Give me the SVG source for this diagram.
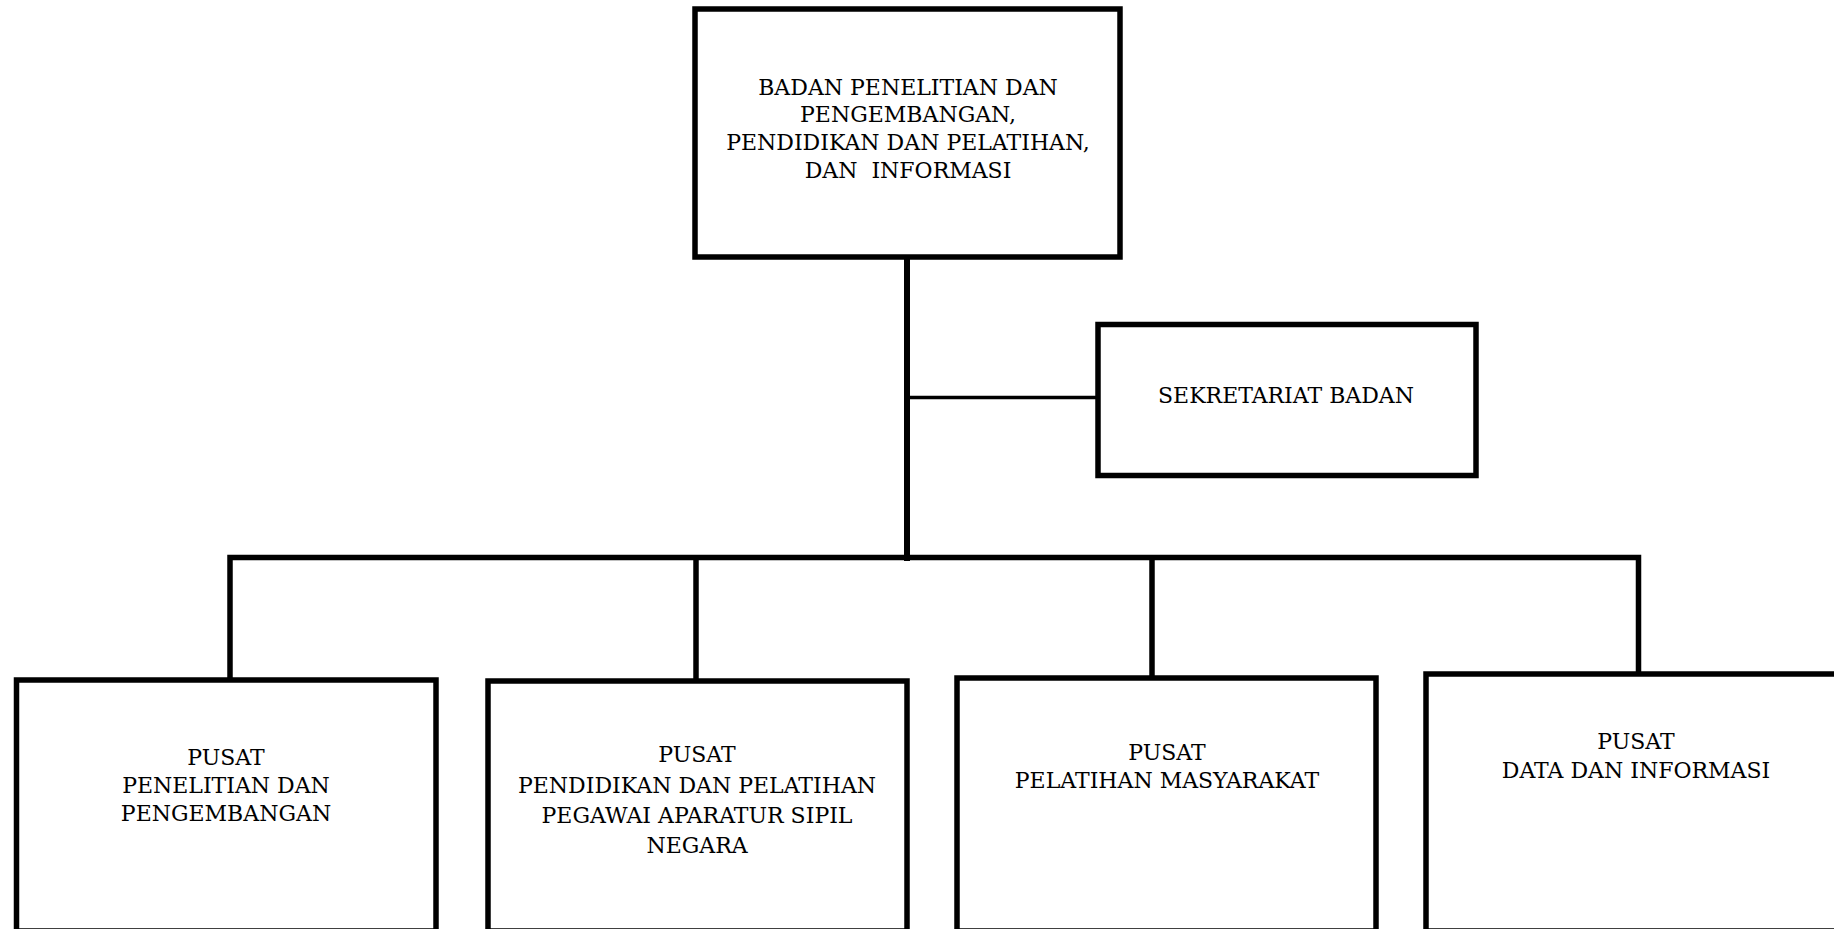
<svg xmlns="http://www.w3.org/2000/svg" width="1834" height="929" viewBox="0 0 1834 929">
<style>
.box{fill:#fff;stroke:#000;stroke-width:5.5}
.t{font-family:"DejaVu Serif","Liberation Serif",serif;font-size:22px;fill:#000;text-anchor:middle}
.c{stroke:#000;fill:none;stroke-linecap:butt}
</style>
<rect width="1834" height="929" fill="#fff"/>
<g id="connectors">
<line class="c" x1="907" y1="257" x2="907" y2="561" stroke-width="6"/>
<line class="c" x1="907" y1="397.5" x2="1098" y2="397.5" stroke-width="3.5"/>
<polyline class="c" points="230,680 230,557.5 1638.5,557.5 1638.5,674" stroke-width="5.5" stroke-linejoin="miter"/>
<line class="c" x1="696" y1="557.5" x2="696" y2="681" stroke-width="5.5"/>
<line class="c" x1="1152" y1="557.5" x2="1152" y2="683" stroke-width="5.5"/>
</g>
<g id="node-badan">
<rect class="box" x="695" y="9" width="425" height="248"/>
<text class="t" x="908" y="95">BADAN PENELITIAN DAN</text>
<text class="t" x="908" y="122">PENGEMBANGAN,</text>
<text class="t" x="908" y="150">PENDIDIKAN DAN PELATIHAN,</text>
<text class="t" x="908" y="178" xml:space="preserve">DAN  INFORMASI</text>
</g>
<g id="node-sekretariat">
<rect class="box" x="1098" y="324.5" width="378" height="151"/>
<text class="t" x="1286" y="403">SEKRETARIAT BADAN</text>
</g>
<g id="node-puslitbang">
<rect class="box" x="16.5" y="680" width="419.5" height="251"/>
<text class="t" x="226" y="765">PUSAT</text>
<text class="t" x="226" y="793">PENELITIAN DAN</text>
<text class="t" x="226" y="821">PENGEMBANGAN</text>
</g>
<g id="node-pusdiklat">
<rect class="box" x="488" y="681" width="419" height="250"/>
<text class="t" x="697" y="762">PUSAT</text>
<text class="t" x="697" y="793">PENDIDIKAN DAN PELATIHAN</text>
<text class="t" x="697" y="823">PEGAWAI APARATUR SIPIL</text>
<text class="t" x="697" y="853">NEGARA</text>
</g>
<g id="node-puslatmas">
<rect class="box" x="957" y="678" width="419" height="253"/>
<text class="t" x="1167" y="760">PUSAT</text>
<text class="t" x="1167" y="788">PELATIHAN MASYARAKAT</text>
</g>
<g id="node-pusdatin">
<rect class="box" x="1426" y="674" width="420" height="257"/>
<text class="t" x="1636" y="749">PUSAT</text>
<text class="t" x="1636" y="778">DATA DAN INFORMASI</text>
</g>
</svg>
